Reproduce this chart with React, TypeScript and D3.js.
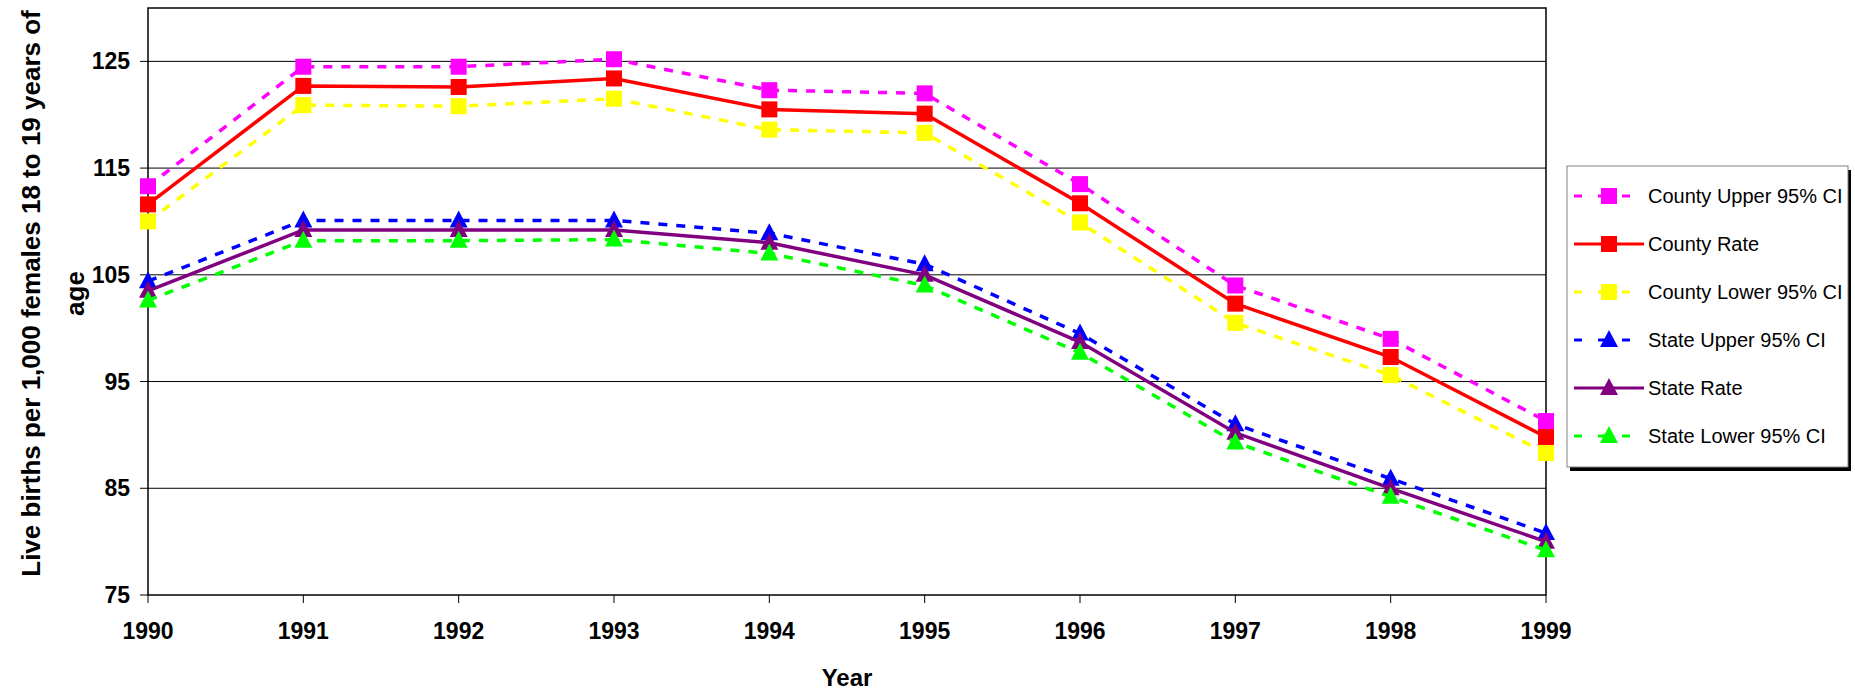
import React from "react";
import * as d3 from "d3";

const years = ["1990","1991","1992","1993","1994","1995","1996","1997","1998","1999"];
const countyUpper = [113.3,124.5,124.5,125.2,122.3,122.0,113.5,104.0,99.0,91.3];
const countyRate = [111.6,122.7,122.6,123.4,120.5,120.1,111.7,102.3,97.3,89.8];
const countyLower = [110.0,120.9,120.8,121.5,118.6,118.3,109.9,100.5,95.6,88.3];
const stateUpper = [104.4,110.1,110.1,110.1,108.9,106.0,99.5,91.0,85.9,80.8];
const stateRate = [103.5,109.2,109.2,109.2,108.0,105.0,98.7,90.2,85.0,80.0];
const stateLower = [102.6,108.2,108.2,108.3,107.0,104.0,97.7,89.3,84.2,79.2];
const yTicks = [75,85,95,105,115,125];

const series = [
  { name: "County Upper 95% CI", data: countyUpper, color: "#FF00FF", dash: true, marker: "square" },
  { name: "County Rate", data: countyRate, color: "#FF0000", dash: false, marker: "square" },
  { name: "County Lower 95% CI", data: countyLower, color: "#FFFF00", dash: true, marker: "square" },
  { name: "State Upper 95% CI", data: stateUpper, color: "#0000FF", dash: true, marker: "tri" },
  { name: "State Rate", data: stateRate, color: "#800080", dash: false, marker: "tri" },
  { name: "State Lower 95% CI", data: stateLower, color: "#00FF00", dash: true, marker: "tri" },
];

function Marker({ x, y, type, color }: any) {
  if (type === "square") return <rect x={x - 8} y={y - 8} width={16} height={16} fill={color} />;
  return <path d={`M${x},${y - 10}L${x + 9},${y + 7}L${x - 9},${y + 7}Z`} fill={color} />;
}

export default function App() {
  const L = 148, R = 1546, T = 8, B = 595;
  const x = d3.scalePoint().domain(years).range([L, R]);
  const y = d3.scaleLinear().domain([75, 130]).range([B, T]);
  const line = d3.line<number>().x((_, i) => x(years[i])!).y(d => y(d));
  const font = "Arial, 'Liberation Sans', sans-serif";
  const lx = 1567, ly = 166, lw = 281, lh = 301;
  const cy0 = (T + B) / 2 - 8;
  return (
    <svg width={1855} height={692} style={{ position: "absolute", left: 0, top: 0 }} fontFamily={font}>
      <rect width={1855} height={692} fill="#fff" />
      {yTicks.map(t => (
        <g key={t}>
          {t !== 75 && <line x1={L} x2={R} y1={y(t)} y2={y(t)} stroke="#000" strokeWidth={1} />}
          <line x1={L - 8} x2={L} y1={y(t)} y2={y(t)} stroke="#000" />
          <text x={L - 18} y={y(t) + 8} textAnchor="end" fontSize={23} fontWeight="bold">{t}</text>
        </g>
      ))}
      <rect x={L} y={T} width={R - L} height={B - T} fill="none" stroke="#000" strokeWidth={1.5} />
      {years.map(yr => (
        <g key={yr}>
          <line x1={x(yr)} x2={x(yr)} y1={B} y2={B + 8} stroke="#000" />
          <text x={x(yr)} y={639} textAnchor="middle" fontSize={23} fontWeight="bold">{yr}</text>
        </g>
      ))}
      <text x={(L + R) / 2} y={686} textAnchor="middle" fontSize={24} fontWeight="bold">Year</text>
      <text transform={`translate(40,${cy0}) rotate(-90)`} textAnchor="middle" fontSize={26} fontWeight="bold">Live births per 1,000 females 18 to 19 years of</text>
      <text transform={`translate(84,${cy0}) rotate(-90)`} textAnchor="middle" fontSize={26} fontWeight="bold">age</text>
      {series.map(s => (
        <g key={s.name}>
          <path d={line(s.data)!} fill="none" stroke={s.color} strokeWidth={3.5} strokeDasharray={s.dash ? "9,9" : undefined} />
          {s.data.map((v, i) => <Marker key={i} x={x(years[i])} y={y(v)} type={s.marker} color={s.color} />)}
        </g>
      ))}
      <rect x={lx + 3} y={ly + 4} width={lw} height={lh} fill="#000" />
      <rect x={lx} y={ly} width={lw} height={lh} fill="#fff" stroke="#808080" strokeWidth={1} />
      {series.map((s, i) => {
        const cy = ly + 30 + i * 48;
        return (
          <g key={s.name}>
            <line x1={lx + 7} x2={lx + 77} y1={cy} y2={cy} stroke={s.color} strokeWidth={3} strokeDasharray={s.dash ? "8,16" : undefined} />
            <Marker x={lx + 42} y={cy} type={s.marker} color={s.color} />
            <text x={lx + 81} y={cy + 7} fontSize={20}>{s.name}</text>
          </g>
        );
      })}
    </svg>
  );
}
